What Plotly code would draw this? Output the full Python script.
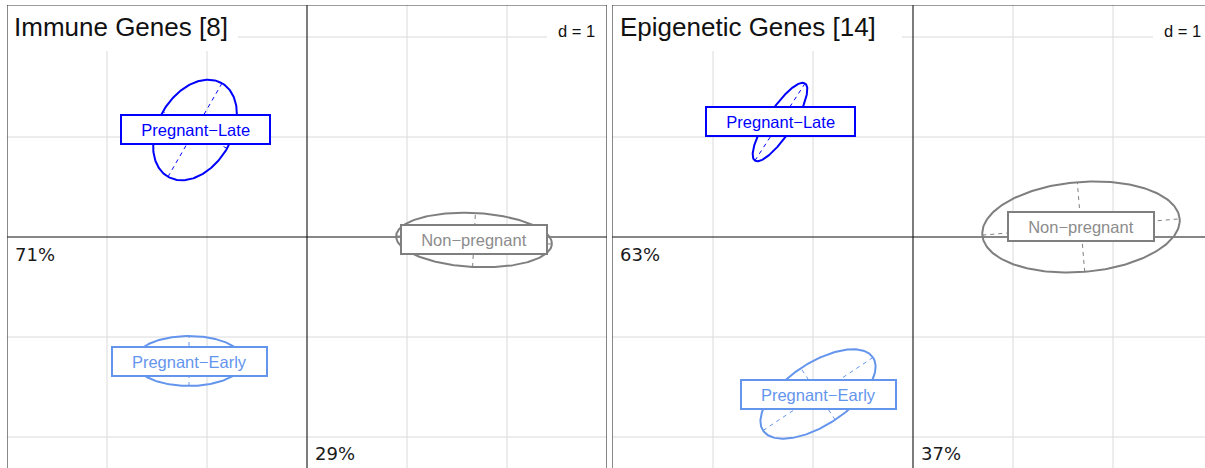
import numpy as np
import plotly.graph_objects as go

# ---------------- data ----------------
groups = ["Pregnant−Late", "Pregnant−Early", "Non−pregnant"]
group_line_colors = ["#0000FF", "#6495ED", "#7F7F7F"]
group_text_colors = ["#0000FF", "#6495ED", "#8C8C8C"]

panel_titles = ["Immune Genes [8]", "Epigenetic Genes [14]"]
axis1_pct = ["71%", "63%"]
axis2_pct = ["29%", "37%"]

# group centroids and ellipse (semi-axis lengths, rotation in degrees)
immune_cx = [-1.12, -1.18, 1.67]
immune_cy = [1.07, -1.24, -0.03]
immune_a = [0.54, 0.55, 0.78]
immune_b = [0.37, 0.25, 0.27]
immune_angle = [60, 0, -3]

epi_cx = [-1.33, -0.95, 1.68]
epi_cy = [1.15, -1.57, 0.10]
epi_a = [0.46, 0.66, 0.99]
epi_b = [0.13, 0.31, 0.45]
epi_angle = [57, 33.6, 4.7]

panels = [
    dict(cx=immune_cx, cy=immune_cy, a=immune_a, b=immune_b, ang=immune_angle),
    dict(cx=epi_cx, cy=epi_cy, a=epi_a, b=epi_b, ang=epi_angle),
]

# ---------------- layout constants ----------------
W, H = 1205, 468
XR = [[-3.0, 3.0], [-3.01, 2.92]]
YR = [-2.31, 2.32]
XDOM = [[7 / W, 607 / W], [612 / W, 1.0]]
YDOM = [0.0, (H - 5) / H]
GRID = "#DADADA"
BORDER = "#3A3A3A"
FONT = "Liberation Sans, Arial, sans-serif"

ARIAL_W = {"P": .667, "r": .333, "e": .556, "g": .556, "n": .556, "a": .556,
           "t": .278, "−": .584, "L": .556, "E": .667, "l": .222, "y": .5,
           "N": .722, "o": .556, "p": .556}


def text_width(s, size):
    return sum(ARIAL_W.get(c, .556) for c in s) * size


fig = go.Figure()
shapes = []
annotations = []

for i, p in enumerate(panels):
    xa = "x" if i == 0 else "x2"
    ya = "y" if i == 0 else "y2"
    x0, x1 = XR[i]
    y0, y1 = YR
    # grid
    for gx in range(int(np.ceil(x0)), int(np.floor(x1)) + 1):
        if gx == 0 or abs(gx) >= 3:
            continue
        shapes.append(dict(type="line", xref=xa, yref=ya, x0=gx, x1=gx, y0=y0, y1=y1,
                           line=dict(color=GRID, width=1), layer="below"))
    for gy in range(int(np.ceil(y0)), int(np.floor(y1)) + 1):
        if gy == 0:
            continue
        shapes.append(dict(type="line", xref=xa, yref=ya, x0=x0, x1=x1, y0=gy, y1=gy,
                           line=dict(color=GRID, width=1), layer="below"))
    # white boxes behind title and scale label
    title_right = -0.69 if i == 0 else -0.11
    shapes.append(dict(type="rect", xref=xa, yref=ya, x0=x0, x1=title_right, y0=1.86, y1=y1,
                       fillcolor="white", line=dict(width=0), layer="below"))
    shapes.append(dict(type="rect", xref=xa, yref=ya, x0=2.4, x1=3.0, y0=1.9, y1=y1,
                       fillcolor="white", line=dict(width=0), layer="below"))
    # axes through origin
    shapes.append(dict(type="line", xref=xa, yref=ya, x0=0, x1=0, y0=y0, y1=y1,
                       line=dict(color="#111111", width=1.1), layer="below"))
    shapes.append(dict(type="line", xref=xa, yref=ya, x0=x0, x1=x1, y0=0, y1=0,
                       line=dict(color="#111111", width=1.1), layer="below"))
    # panel border (left, top, right)
    shapes.append(dict(type="line", xref=xa, yref=ya, x0=x0, x1=x0, y0=y0, y1=y1,
                       line=dict(color=BORDER, width=1.2)))
    shapes.append(dict(type="line", xref=xa, yref=ya, x0=x0, x1=x1, y0=y1, y1=y1,
                       line=dict(color=BORDER, width=1.2)))
    if i == 0:
        shapes.append(dict(type="line", xref=xa, yref=ya, x0=x1, x1=x1, y0=y0, y1=y1,
                           line=dict(color=BORDER, width=1.2)))

    # ellipses
    t = np.linspace(0, 2 * np.pi, 241)
    for g in range(len(groups)):
        cx, cy, a, b = p["cx"][g], p["cy"][g], p["a"][g], p["b"][g]
        th = np.deg2rad(p["ang"][g])
        ex = cx + a * np.cos(t) * np.cos(th) - b * np.sin(t) * np.sin(th)
        ey = cy + a * np.cos(t) * np.sin(th) + b * np.sin(t) * np.cos(th)
        col = group_line_colors[g]
        # dashed axes of the ellipse
        ax_x = [cx - a * np.cos(th), cx + a * np.cos(th), None,
                cx + b * np.sin(th), cx - b * np.sin(th)]
        ax_y = [cy - a * np.sin(th), cy + a * np.sin(th), None,
                cy - b * np.cos(th), cy + b * np.cos(th)]
        fig.add_trace(go.Scatter(x=ax_x, y=ax_y, mode="lines", xaxis=xa, yaxis=ya,
                                 line=dict(color=col, width=1, dash="4px,4px"),
                                 hoverinfo="skip", showlegend=False))
        fig.add_trace(go.Scatter(x=ex, y=ey, mode="lines", xaxis=xa, yaxis=ya,
                                 line=dict(color=col, width=2),
                                 hoverinfo="skip", showlegend=False))
        # label box at centroid
        annotations.append(dict(
            x=cx, y=cy, xref=xa, yref=ya, text=groups[g], showarrow=False,
            font=dict(family=FONT, size=16.5, color=group_text_colors[g]),
            bgcolor="white", bordercolor=col, borderwidth=2, borderpad=0,
            width=text_width(groups[g], 16) + 42, height=27,
            xanchor="center", yanchor="middle"))

    # title
    annotations.append(dict(x=-2.95, y=2.10, xref=xa, yref=ya, text=panel_titles[i],
                            showarrow=False, xanchor="left", yanchor="middle",
                            font=dict(family=FONT, size=26, color="#111111")))
    # scale
    annotations.append(dict(x=2.90, y=2.06, xref=xa, yref=ya, text="d = 1",
                            showarrow=False, xanchor="right", yanchor="middle",
                            font=dict(family=FONT, size=16.5, color="#111111")))
    # percentages
    annotations.append(dict(x=x0 + 0.055, y=-0.175, xref=xa, yref=ya, text=axis1_pct[i],
                            showarrow=False, xanchor="left", yanchor="middle",
                            font=dict(family="DejaVu Sans", size=18, color="#1A1A1A")))
    annotations.append(dict(x=0.06, y=-2.165, xref=xa, yref=ya, text=axis2_pct[i],
                            showarrow=False, xanchor="left", yanchor="middle",
                            font=dict(family="DejaVu Sans", size=18, color="#1A1A1A")))

axis_common = dict(showgrid=False, zeroline=False, showticklabels=False,
                   showline=False, ticks="", fixedrange=True)
fig.update_layout(
    width=W, height=H, margin=dict(l=0, r=0, t=0, b=0),
    paper_bgcolor="white", plot_bgcolor="white", showlegend=False,
    xaxis=dict(domain=XDOM[0], range=XR[0], anchor="y", **axis_common),
    yaxis=dict(domain=YDOM, range=YR, anchor="x", **axis_common),
    xaxis2=dict(domain=XDOM[1], range=XR[1], anchor="y2", **axis_common),
    yaxis2=dict(domain=YDOM, range=YR, anchor="x2", **axis_common),
    shapes=shapes, annotations=annotations,
)

fig.write_html(
    "out.html",
    config={"displayModeBar": False},
    post_script="document.body.style.margin='0';document.body.style.overflow='hidden';",
)
